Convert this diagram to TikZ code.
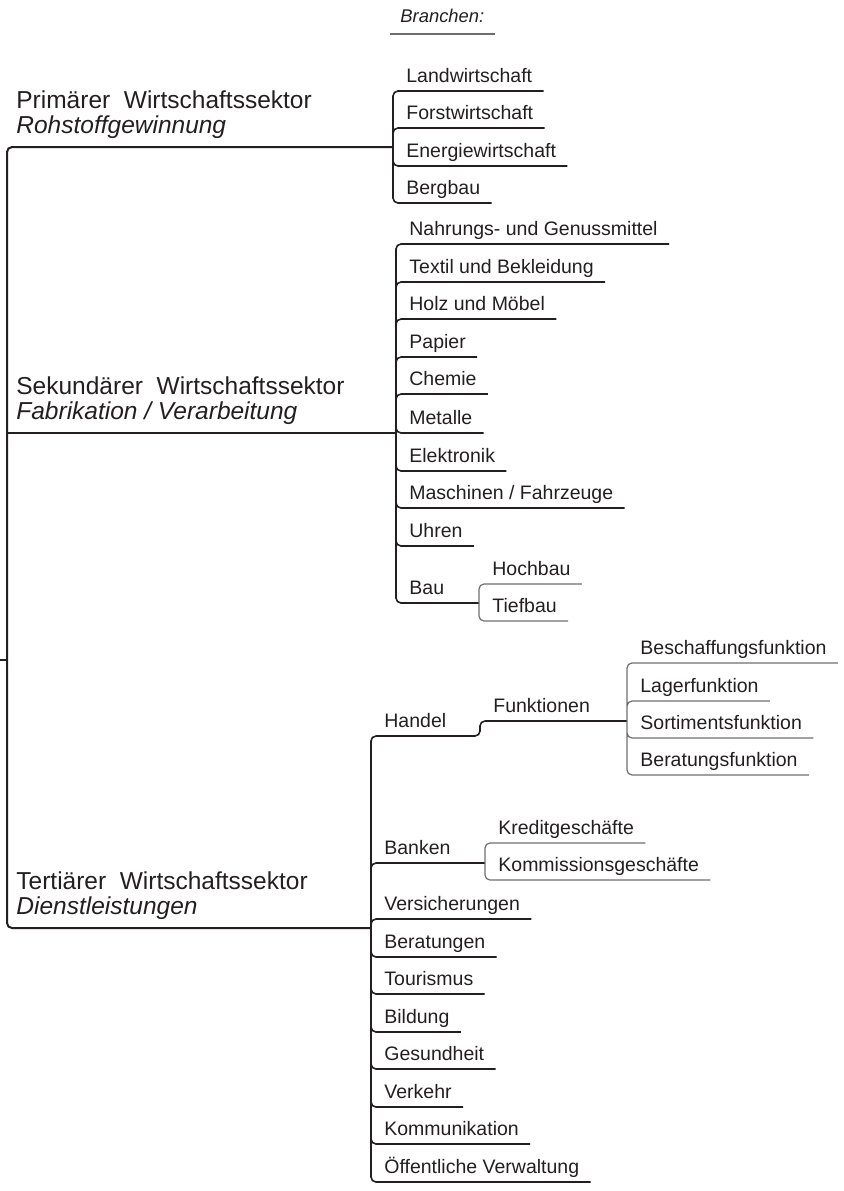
\documentclass[tikz,border=0pt]{standalone}
\usepackage{fontspec}
\setmainfont{Liberation Sans}
\usepackage{tikz}

\definecolor{ink}{HTML}{231F20}
\definecolor{twig}{HTML}{6E6E6E}
\tikzset{
  sektor/.style={anchor=south west, inner xsep=0pt, inner ysep=6.5pt, text depth=0pt,
    align=left, text=ink, font=\fontsize{12.25pt}{12.5pt}\selectfont},
  branche/.style={anchor=south west, inner xsep=5.5pt, inner ysep=4pt, text depth=0pt,
    text=ink, font=\fontsize{9.75pt}{12pt}\selectfont},
  stamm/.style={draw=ink, line width=1pt, rounded corners=2.5pt},
  ast/.style={draw=ink, line width=0.8pt, rounded corners=2.5pt},
  zweig/.style={draw=twig, line width=0.6pt, rounded corners=2.5pt},
}

\begin{document}
\begin{tikzpicture}[x=0.5pt,y=-0.5pt]
    \useasboundingbox (0,0) rectangle (843,1191);
    % Kopf
    \node[branche, inner xsep=5pt, inner ysep=5.5pt, font=\fontsize{9.2pt}{11pt}\selectfont\itshape] (kopf) at (390,34) {Branchen:};
    \draw[zweig] (kopf.south west) -- (kopf.south east);

    % Sektoren und Stamm
    \coordinate (wurzel) at (0,660);
    \coordinate (mitte) at (7,660);
    \coordinate (pj) at (393,147);
    \coordinate (sj) at (396,433);
    \coordinate (tj) at (371,928);
    \node[sektor] (prim) at (16,147) {Primärer~ Wirtschaftssektor\\\textit{Rohstoffgewinnung}};
    \node[sektor] (sek) at (16,433) {Sekundärer~ Wirtschaftssektor\\\textit{Fabrikation / Verarbeitung}};
    \node[sektor] (tert) at (16,928) {Tertiärer~ Wirtschaftssektor\\\textit{Dienstleistungen}};
    \draw[stamm] (wurzel) -- (mitte);
    \draw[stamm] (pj) -| (mitte) |- (tj);
    \draw[stamm] (mitte |- sj) -- (sj);

    % Primaer
    \node[branche] (land) at (395,91) {Landwirtschaft};
    \node[branche] (forst) at (395,128) {Forstwirtschaft};
    \node[branche] (energie) at (395,166) {Energiewirtschaft};
    \node[branche] (berg) at (395,203) {Bergbau};
    \draw[ast] (pj) |- (land.south east) (pj) |- (forst.south east)
      (pj) |- (energie.south east) (pj) |- (berg.south east);

    % Sekundaer
    \node[branche] (nahrung) at (398,244) {Nahrungs- und Genussmittel};
    \node[branche] (textil) at (398,282) {Textil und Bekleidung};
    \node[branche] (holz) at (398,319) {Holz und Möbel};
    \node[branche] (papier) at (398,357) {Papier};
    \node[branche] (chemie) at (398,394) {Chemie};
    \node[branche] (metall) at (398,433) {Metalle};
    \node[branche] (elektro) at (398,471) {Elektronik};
    \node[branche] (maschine) at (398,508) {Maschinen / Fahrzeuge};
    \node[branche] (uhren) at (398,546) {Uhren};
    \node[branche] (bau) at (398,603) {Bau};
    \coordinate (bj) at (479,603);
    \draw[ast] (sj) |- (nahrung.south east) (sj) |- (textil.south east)
      (sj) |- (holz.south east) (sj) |- (papier.south east)
      (sj) |- (chemie.south east) (sj) |- (metall.south east)
      (sj) |- (elektro.south east) (sj) |- (maschine.south east)
      (sj) |- (uhren.south east) (sj) |- (bj);
    \node[branche] (hoch) at (481,584) {Hochbau};
    \node[branche] (tief) at (481,621) {Tiefbau};
    \draw[zweig] (bj) |- (hoch.south east) (bj) |- (tief.south east);

    % Tertiaer
    \node[branche] (handel) at (373,736) {Handel};
    \coordinate (hj) at (480,736);
    \node[branche] (funktion) at (482,721) {Funktionen};
    \coordinate (fj) at (627,721);
    \node[branche] (banken) at (373,863) {Banken};
    \coordinate (kj) at (485,863);
    \node[branche] (versich) at (373,919) {Versicherungen};
    \node[branche] (berat) at (373,957) {Beratungen};
    \node[branche] (touris) at (373,994) {Tourismus};
    \node[branche] (bildung) at (373,1032) {Bildung};
    \node[branche] (gesund) at (373,1069) {Gesundheit};
    \node[branche] (verkehr) at (373,1107) {Verkehr};
    \node[branche] (kommu) at (373,1144) {Kommunikation};
    \node[branche] (verwalt) at (373,1182) {Öffentliche Verwaltung};
    \draw[ast] (tj) |- (hj) |- (fj);
    \draw[ast] (tj) |- (kj) (tj) |- (versich.south east)
      (tj) |- (berat.south east) (tj) |- (touris.south east)
      (tj) |- (bildung.south east) (tj) |- (gesund.south east)
      (tj) |- (verkehr.south east) (tj) |- (kommu.south east)
      (tj) |- (verwalt.south east);

    % Handel: Funktionen
    \node[branche] (beschaff) at (629,663) {Beschaffungsfunktion};
    \node[branche] (lager) at (629,701) {Lagerfunktion};
    \node[branche] (sortiment) at (629,738) {Sortimentsfunktion};
    \node[branche] (beratfkt) at (629,775) {Beratungsfunktion};
    \draw[zweig] (fj) |- (beschaff.south east) (fj) |- (lager.south east)
      (fj) |- (sortiment.south east) (fj) |- (beratfkt.south east);

    % Banken
    \node[branche] (kredit) at (487,843) {Kreditgeschäfte};
    \node[branche] (kommiss) at (487,880) {Kommissionsgeschäfte};
    \draw[zweig] (kj) |- (kredit.south east) (kj) |- (kommiss.south east);
\end{tikzpicture}
\end{document}
